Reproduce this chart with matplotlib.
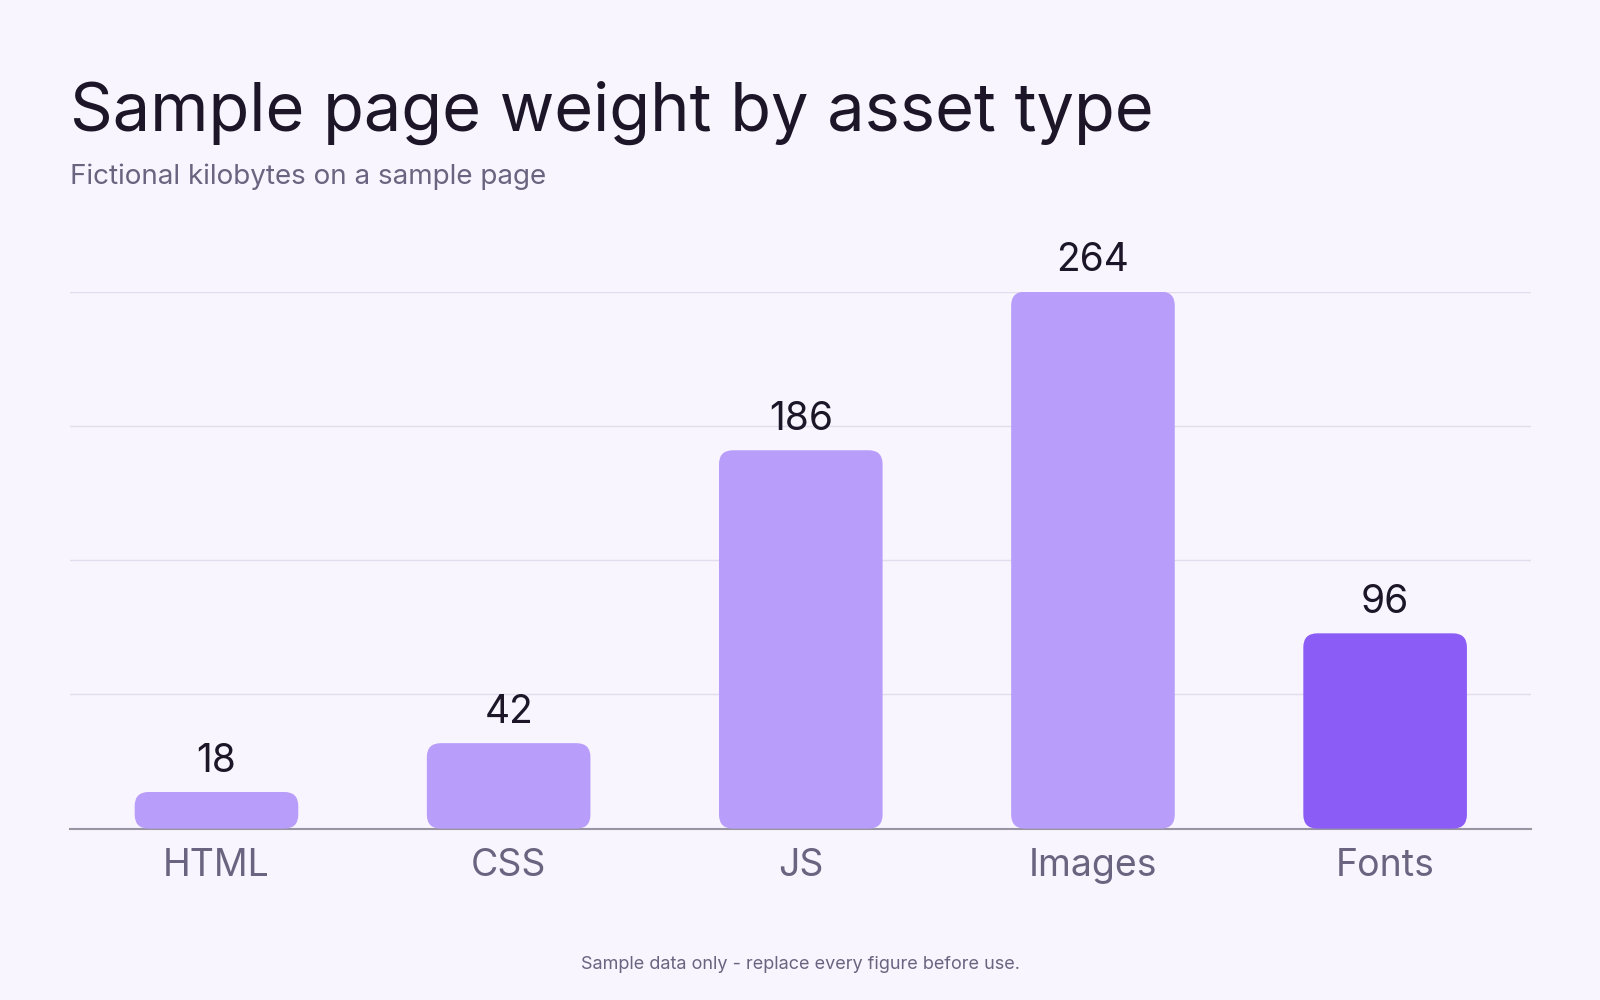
import matplotlib
matplotlib.use("Agg")
import matplotlib.pyplot as plt
from matplotlib.patches import FancyBboxPatch

categories = ["HTML", "CSS", "JS", "Images", "Fonts"]
values = [18, 42, 186, 264, 96]
colors = ["#b89dfa", "#b89dfa", "#b89dfa", "#b89dfa", "#8b5cf6"]

plt.rcParams['font.family'] = ['Inter', 'DejaVu Sans']
bg = "#f9f5fe"
fig = plt.figure(figsize=(16, 10), dpi=100, facecolor=bg)
ax = fig.add_axes([0.044, 0.1714, 0.913, 0.537], facecolor=bg)
ax.set_xlim(-0.5, 4.5)
ax.set_ylim(0, 264)
W, H = 1600 * 0.913, 1000 * 0.537
rpx = 14
rx = rpx * 5 / W
ry = rpx * 264 / H
bw = 0.56
for i, (v, c) in enumerate(zip(values, colors)):
    p = FancyBboxPatch((i - bw / 2, 0), bw, v,
                       boxstyle=f"round,pad=0,rounding_size={rx}",
                       mutation_aspect=ry / rx, fc=c, ec="none", zorder=3)
    ax.add_patch(p)
    ax.text(i, v + 6, str(v), ha="center", va="bottom", fontsize=28,
            color="#1c1628", clip_on=False, zorder=4)
ax.set_yticks([0, 66, 132, 198, 264])
ax.yaxis.grid(True, color="#e3dcec", lw=1)
ax.set_axisbelow(True)
ax.tick_params(axis="y", left=False, labelleft=False)
ax.set_xticks(range(len(categories)))
ax.set_xticklabels(categories, fontsize=27, color="#6b6480")
ax.tick_params(axis="x", length=0, pad=14)
for s in ["top", "right", "left"]:
    ax.spines[s].set_visible(False)
ax.spines["bottom"].set_color("#9a95a3")
ax.spines["bottom"].set_linewidth(1.5)

fig.text(0.044, 0.855, "Sample page weight by asset type", fontsize=48,
         color="#1c1628", va="bottom")
fig.text(0.044, 0.81, "Fictional kilobytes on a sample page", fontsize=20,
         color="#6b6480", va="bottom")
fig.text(0.5, 0.027, "Sample data only - replace every figure before use.",
         fontsize=13, color="#6b6480", ha="center", va="bottom")
fig.savefig("out.png", facecolor=bg)
